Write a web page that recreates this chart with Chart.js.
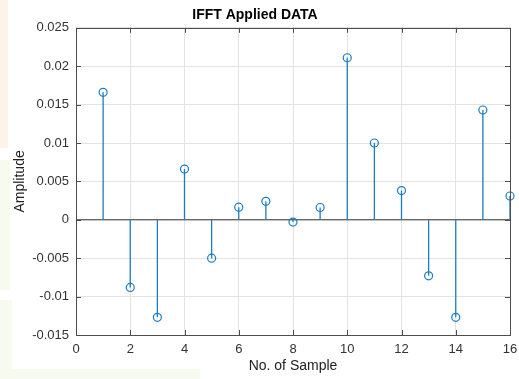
<!DOCTYPE html>
<html>
<head>
<meta charset="utf-8">
<script src="https://cdn.jsdelivr.net/npm/chart.js@4.4.1/dist/chart.umd.min.js"></script>
<style>
  html, body { margin: 0; padding: 0; background: #fff; }
  #wrap { position: relative; width: 519px; height: 379px; }
  .tint { position: absolute; }
  canvas { position: absolute; left: 0; top: 0; }
</style>
</head>
<body>
<div id="wrap">
  <div class="tint" style="left:0;top:0;width:8px;height:148px;background:#fdf3e8"></div>
  <div class="tint" style="left:0;top:160px;width:10px;height:130px;background:#f6faef"></div>
  <div class="tint" style="left:0;top:300px;width:12px;height:79px;background:#f6faef"></div>
  <div class="tint" style="left:0;top:369px;width:200px;height:10px;background:#f6faef"></div>
  <canvas id="chartCanvas" width="519" height="379"></canvas>
</div>
<script>
// sample index and IFFT output amplitude
const samples = [1, 2, 3, 4, 5, 6, 7, 8, 9, 10, 11, 12, 13, 14, 15, 16];
const amplitudes = [0.0166, -0.0088, -0.0127, 0.0066, -0.0050, 0.00165, 0.0024, -0.0003,
                    0.0016, 0.0211, 0.0100, 0.0038, -0.0073, -0.0127, 0.0143, 0.0031];
const xTicks = [0, 2, 4, 6, 8, 10, 12, 14, 16];
const yTickLabels = ['-0.015', '-0.01', '-0.005', '0', '0.005', '0.01', '0.015', '0.02', '0.025'];

const stemColor = '#1a7cc2';
const axisColor = '#4d4d4d';
const font = "'Liberation Sans', Arial, sans-serif";

// stems: vertical segments from 0 to each value, separated by null gaps
const stemPoints = [];
samples.forEach((s, i) => {
  stemPoints.push({ x: s, y: 0 }, { x: s, y: amplitudes[i] }, { x: s, y: null });
});
const markerPoints = samples.map((s, i) => ({ x: s, y: amplitudes[i] }));

// box around the axes with inward tick marks
const axesBox = {
  id: 'axesBox',
  afterDatasetsDraw(chart) {
    const { ctx, chartArea: a, scales: { x, y } } = chart;
    const len = 5;
    ctx.save();
    ctx.strokeStyle = axisColor;
    ctx.lineWidth = 1;
    ctx.beginPath();
    xTicks.forEach(v => {
      const px = Math.round(x.getPixelForValue(v)) + 0.5;
      ctx.moveTo(px, a.bottom); ctx.lineTo(px, a.bottom - len);
      ctx.moveTo(px, a.top); ctx.lineTo(px, a.top + len);
    });
    yTickLabels.forEach(t => {
      const py = Math.round(y.getPixelForValue(parseFloat(t))) + 0.5;
      ctx.moveTo(a.left, py); ctx.lineTo(a.left + len, py);
      ctx.moveTo(a.right, py); ctx.lineTo(a.right - len, py);
    });
    ctx.stroke();
    ctx.strokeRect(Math.round(a.left) + 0.5, Math.round(a.top) + 0.5,
      Math.round(a.right - a.left), Math.round(a.bottom - a.top));
    ctx.restore();
  }
};

new Chart(document.getElementById('chartCanvas').getContext('2d'), {
  type: 'scatter',
  data: {
    datasets: [
      {
        type: 'line',
        data: [{ x: 0, y: 0 }, { x: 16, y: 0 }],
        borderColor: '#333333',
        borderWidth: 1,
        pointRadius: 0,
        order: 3
      },
      {
        type: 'line',
        data: stemPoints,
        borderColor: stemColor,
        borderWidth: 1.3,
        pointRadius: 0,
        spanGaps: false,
        order: 2
      },
      {
        data: markerPoints,
        pointStyle: 'circle',
        pointRadius: 4,
        pointBorderWidth: 1.2,
        pointBorderColor: stemColor,
        pointBackgroundColor: 'rgba(0,0,0,0)',
        clip: false,
        order: 1
      }
    ]
  },
  options: {
    responsive: false,
    animation: false,
    layout: { padding: { left: 0, right: 9, top: 0, bottom: 0 } },
    plugins: {
      legend: { display: false },
      tooltip: { enabled: false },
      title: {
        display: true,
        text: 'IFFT Applied DATA',
        color: '#000',
        font: { family: font, size: 14, weight: 'bold' },
        padding: { top: 7, bottom: 4 }
      }
    },
    scales: {
      x: {
        type: 'linear',
        min: 0,
        max: 16,
        afterBuildTicks: s => { s.ticks = xTicks.map(v => ({ value: v })); },
        afterFit: s => { s.height = 44; s.paddingLeft = 0; s.paddingRight = 0; },
        grid: { color: '#e3e3e3', drawTicks: false },
        border: { display: false },
        ticks: {
          color: '#333',
          padding: 7,
          maxRotation: 0,
          font: { family: font, size: 13 },
          callback: v => String(v)
        },
        title: {
          display: true,
          text: 'No. of Sample',
          color: '#222',
          font: { family: font, size: 14 },
          padding: { top: 0, bottom: 4 }
        }
      },
      y: {
        min: -0.015,
        max: 0.025,
        afterBuildTicks: s => { s.ticks = yTickLabels.map(t => ({ value: parseFloat(t) })); },
        afterFit: s => { s.width = 76; s.paddingTop = 0; s.paddingBottom = 0; },
        grid: { color: '#e3e3e3', drawTicks: false },
        border: { display: false },
        ticks: {
          color: '#333',
          padding: 7,
          font: { family: font, size: 13 },
          callback: v => yTickLabels.find(t => Math.abs(parseFloat(t) - v) < 1e-9) || ''
        },
        title: {
          display: true,
          text: 'Amplitude',
          color: '#222',
          font: { family: font, size: 14 },
          padding: { top: 12, bottom: 0 }
        }
      }
    }
  },
  plugins: [axesBox]
});
</script>
</body>
</html>
